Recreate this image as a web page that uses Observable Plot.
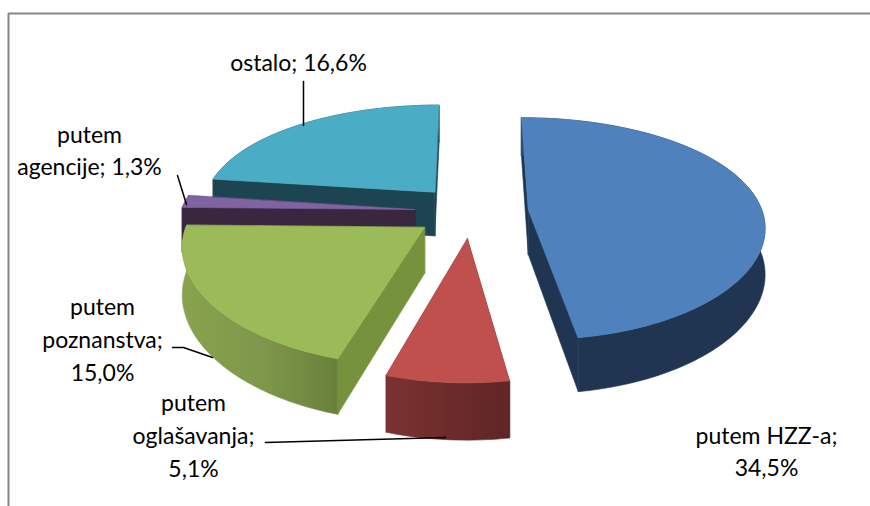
<!DOCTYPE html>
<html>
<head>
<meta charset="utf-8">
<script src="https://cdn.jsdelivr.net/npm/d3@7"></script>
<script src="https://cdn.jsdelivr.net/npm/@observablehq/plot@0.6"></script>
<style>html,body{margin:0;padding:0;background:#fff}svg{display:block}</style>
</head>
<body>
<div id="chart"></div>
<script>
const categories = ["putem HZZ-a", "putem oglašavanja", "putem poznanstva", "putem agencije", "ostalo"];
const shares = [34.5, 5.1, 15.0, 1.3, 16.6];
const labelTexts = ["putem HZZ-a;\n34,5%", "putem\noglašavanja;\n5,1%", "putem\npoznanstva;\n15,0%", "putem\nagencije; 1,3%", "ostalo; 16,6%"];
const labelX = [766, 193, 102, 89, 298];
const labelY = [449, 433, 337, 148, 60];
const topColors = ["#4f81bd", "#c0504d", "#9bbb59", "#8064a2", "#4bacc6"];
const radialColors = ["#1f3552", "#632625", "#76923c", "#39263f", "#1d4551"];
const wallStops = [
  [["0%", "#2a4a70"], ["22%", "#1f3552"], ["100%", "#1f3552"]],
  [["0%", "#7a3231"], ["100%", "#5f2524"]],
  [["0%", "#88a34e"], ["55%", "#7d964a"], ["100%", "#68803a"]],
  [["0%", "#39263f"], ["100%", "#39263f"]],
  [["0%", "#1d4551"], ["100%", "#1d4551"]]
];
const drawOrder = [4, 3, 0, 2, 1];
const leaders = [
  [[303, 81], [303, 125]],
  [[177, 175], [186, 204]],
  [[172, 347], [183, 347], [212, 357]],
  [[265, 442], [445, 437]]
];

// projection of the exploded pie
const cx = 471, cy = 211, rx = 234, ky = 108.3, depth = 5.8, wall = 45, explode = 0.2437;
const total = d3.sum(shares);
function project(X, Z, drop) {
  const s = depth / (depth + Z);
  return {x: cx + rx * X * Math.pow(s, 0.8), y: cy - ky * Z * s + drop * wall * s};
}
let start = 0;
const slices = shares.map((v, i) => {
  const a0 = start, a1 = start + (v / total) * 2 * Math.PI;
  start = a1;
  const mid = (a0 + a1) / 2;
  return {i, a0, a1, ox: explode * Math.sin(mid), oz: explode * Math.cos(mid)};
});
function arc(sl, drop) {
  const n = Math.max(4, Math.ceil((sl.a1 - sl.a0) * 40));
  return d3.range(n + 1).map(k => {
    const a = sl.a0 + (sl.a1 - sl.a0) * k / n;
    return project(sl.ox + Math.sin(a), sl.oz + Math.cos(a), drop);
  });
}
const apex = (sl, drop) => project(sl.ox, sl.oz, drop);
function poly(points, fill) {
  return Plot.line(points, {x: "x", y: "y", fill, stroke: fill, strokeWidth: 0.6, curve: "linear-closed"});
}
const marks = [];
// gradient definitions
marks.push(() => {
  const defs = d3.create("svg:defs");
  wallStops.forEach((stops, i) => {
    const g = defs.append("linearGradient").attr("id", "wall" + i);
    stops.forEach(([o, c]) => g.append("stop").attr("offset", o).attr("stop-color", c));
  });
  return defs.node();
});
// frame
marks.push(Plot.line([[870, 13], [8, 13], [8, 506]], {x: d => d[0], y: d => d[1], stroke: "#868686", strokeWidth: 2, curve: "linear"}));
for (const i of drawOrder) {
  const sl = slices[i];
  const top = arc(sl, 0), bottom = arc(sl, 1);
  const A0 = apex(sl, 0), A1 = apex(sl, 1);
  marks.push(poly([A0, top[0], bottom[0], A1], radialColors[i]));
  marks.push(poly([A0, top[top.length - 1], bottom[bottom.length - 1], A1], radialColors[i]));
  marks.push(poly([...top, ...bottom.slice().reverse()], `url(#wall${i})`));
  marks.push(poly([A0, ...top], topColors[i]));
}
// leaders
leaders.forEach(l => marks.push(Plot.line(l, {x: d => d[0], y: d => d[1], stroke: "#000", strokeWidth: 1.5, curve: "linear"})));
// labels
marks.push(Plot.text(labelTexts, {
  x: (d, i) => labelX[i], y: (d, i) => labelY[i], text: d => d,
  fontSize: 23, fontFamily: "Lato", fill: "#000", lineHeight: 1.43, textAnchor: "middle"
}));
const chart = Plot.plot({
  width: 870, height: 506, margin: 0,
  x: {domain: [0, 870], range: [0, 870], axis: null},
  y: {domain: [0, 506], range: [0, 506], axis: null},
  style: {background: "#fff"},
  marks
});
document.getElementById("chart").append(chart);
</script>
</body>
</html>
